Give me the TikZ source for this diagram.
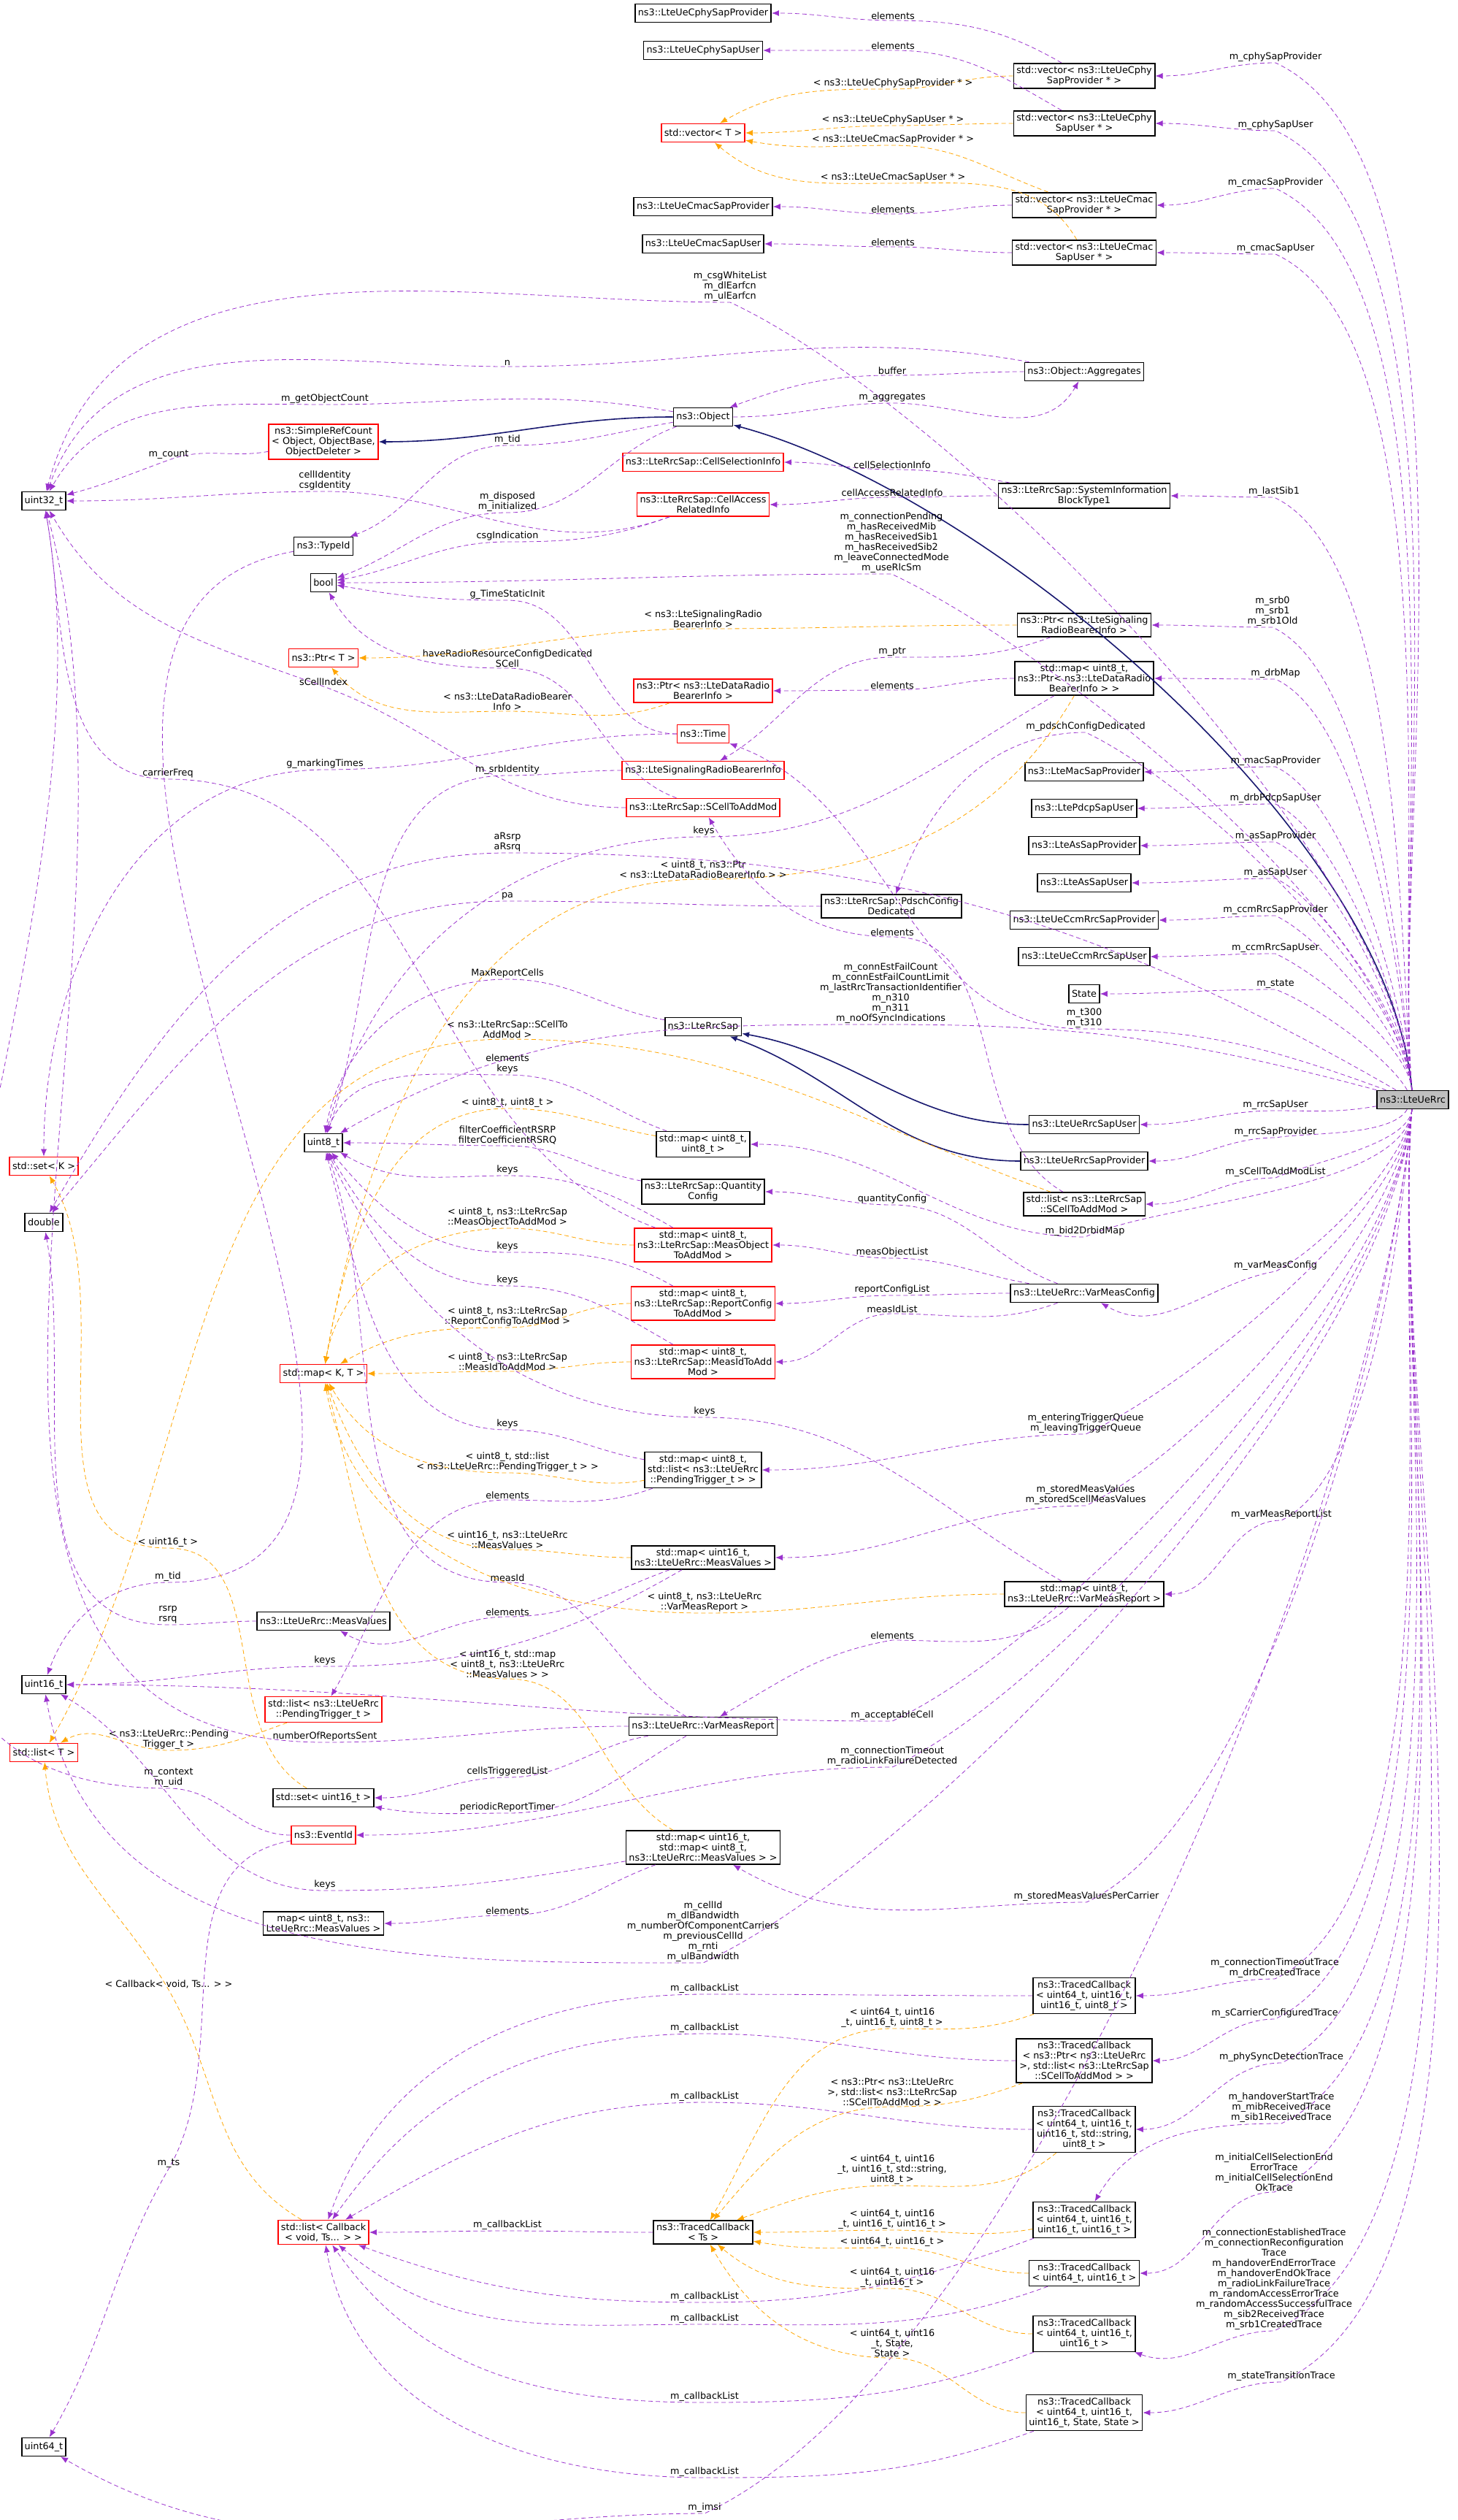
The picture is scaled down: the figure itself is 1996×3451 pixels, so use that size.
\documentclass[tikz,border=0pt]{standalone}
\usepackage{fontspec}
\setmainfont{DejaVu Sans}
\usetikzlibrary{arrows.meta}
\catcode`\_=12
\definecolor{memcol}{RGB}{154,50,205}
\definecolor{tplcol}{RGB}{255,165,0}
\definecolor{inhcol}{RGB}{25,25,112}
\begin{document}
\begin{tikzpicture}[x=0.5pt,y=-0.5pt,
  font=\fontsize{6.4}{7}\selectfont,
  box/.style={draw,thick,fill=white,align=center,inner sep=2pt,minimum height=12.5pt},
  redbox/.style={box,draw=red},
  lbl/.style={align=center,inner sep=0.6pt,font=\fontsize{6.4}{7}\selectfont},
  mem/.style={draw=memcol,dash pattern=on 3pt off 2pt,-{Latex[length=5pt,width=4pt]}},
  tpl/.style={draw=tplcol,dash pattern=on 3pt off 2pt,-{Latex[length=5pt,width=4pt]}},
  inh/.style={draw=inhcol,thick,-{Latex[length=5pt,width=4pt]}},
  rup/.style={out=95,in=-25,looseness=0.6},
  rdn/.style={out=-95,in=25,looseness=0.6},
  ]
  \useasboundingbox (0,0) rectangle (1996,3451);
  %Nodes
  \node[box,fill=gray!50] (rrc) at (1935,1506) {ns3::LteUeRrc};
  \node[box] (cphyprov) at (963,18) {ns3::LteUeCphySapProvider};
  \node[box] (cphyuser) at (963,69) {ns3::LteUeCphySapUser};
  \node[redbox] (vect) at (963,182) {std::vector< T >};
  \node[box] (cmacprov) at (963,283) {ns3::LteUeCmacSapProvider};
  \node[box] (cmacuser) at (963,334) {ns3::LteUeCmacSapUser};
  \node[box] (vcphyprov) at (1485,104) {std::vector< ns3::LteUeCphy\\SapProvider * >};
  \node[box] (vcphyuser) at (1485,169) {std::vector< ns3::LteUeCphy\\SapUser * >};
  \node[box] (vcmacprov) at (1485,281) {std::vector< ns3::LteUeCmac\\SapProvider * >};
  \node[box] (vcmacuser) at (1485,346) {std::vector< ns3::LteUeCmac\\SapUser * >};
  \node[box] (aggr) at (1485,509) {ns3::Object::Aggregates};
  \node[box] (object) at (963,571) {ns3::Object};
  \node[redbox] (refcount) at (443,605) {ns3::SimpleRefCount\\< Object, ObjectBase,\\ObjectDeleter >};
  \node[box] (u32) at (60,686) {uint32_t};
  \node[redbox] (cellsel) at (963,633) {ns3::LteRrcSap::CellSelectionInfo};
  \node[redbox] (cellacc) at (963,691) {ns3::LteRrcSap::CellAccess\\RelatedInfo};
  \node[box] (sib1) at (1485,679) {ns3::LteRrcSap::SystemInformation\\BlockType1};
  \node[box] (typeid) at (443,748) {ns3::TypeId};
  \node[box] (boolt) at (443,798) {bool};
  \node[redbox] (ptrt) at (443,901) {ns3::Ptr< T >};
  \node[redbox] (ptrdrb) at (963,946) {ns3::Ptr< ns3::LteDataRadio\\BearerInfo >};
  \node[redbox] (time) at (963,1005) {ns3::Time};
  \node[redbox] (srbinfo) at (963,1055) {ns3::LteSignalingRadioBearerInfo};
  \node[redbox] (scell) at (963,1106) {ns3::LteRrcSap::SCellToAddMod};
  \node[box] (rrcsap) at (963,1406) {ns3::LteRrcSap};
  \node[box] (ptrsrb) at (1485,856) {ns3::Ptr< ns3::LteSignaling\\RadioBearerInfo >};
  \node[box] (drbmap) at (1485,929) {std::map< uint8_t,\\ns3::Ptr< ns3::LteDataRadio\\BearerInfo > >};
  \node[box] (pdsch) at (1221,1241) {ns3::LteRrcSap::PdschConfig\\Dedicated};
  \node[box] (macprov) at (1485,1057) {ns3::LteMacSapProvider};
  \node[box] (pdcpuser) at (1485,1107) {ns3::LtePdcpSapUser};
  \node[box] (asprov) at (1485,1158) {ns3::LteAsSapProvider};
  \node[box] (asuser) at (1485,1209) {ns3::LteAsSapUser};
  \node[box] (ccmprov) at (1485,1260) {ns3::LteUeCcmRrcSapProvider};
  \node[box] (ccmuser) at (1485,1310) {ns3::LteUeCcmRrcSapUser};
  \node[box] (state) at (1485,1361) {State};
  \node[redbox] (setk) at (60,1597) {std::set< K >};
  \node[box] (dbl) at (60,1674) {double};
  \node[box] (u8) at (443,1565) {uint8_t};
  \node[box] (map88) at (963,1567) {std::map< uint8_t,\\uint8_t >};
  \node[box] (quant) at (963,1632) {ns3::LteRrcSap::Quantity\\Config};
  \node[redbox] (mapobj) at (963,1705) {std::map< uint8_t,\\ns3::LteRrcSap::MeasObject\\ToAddMod >};
  \node[redbox] (maprep) at (963,1785) {std::map< uint8_t,\\ns3::LteRrcSap::ReportConfig\\ToAddMod >};
  \node[redbox] (mapid) at (963,1865) {std::map< uint8_t,\\ns3::LteRrcSap::MeasIdToAdd\\Mod >};
  \node[redbox] (mapkt) at (443,1881) {std::map< K, T >};
  \node[box] (mappend) at (963,2013) {std::map< uint8_t,\\std::list< ns3::LteUeRrc\\::PendingTrigger_t > >};
  \node[box] (mapmv) at (963,2133) {std::map< uint16_t,\\ns3::LteUeRrc::MeasValues >};
  \node[box] (measval) at (443,2220) {ns3::LteUeRrc::MeasValues};
  \node[box] (u16) at (60,2307) {uint16_t};
  \node[redbox] (listpend) at (443,2341) {std::list< ns3::LteUeRrc\\::PendingTrigger_t >};
  \node[box] (varrep) at (963,2364) {ns3::LteUeRrc::VarMeasReport};
  \node[redbox] (listt) at (60,2400) {std::list< T >};
  \node[box] (rrcuser) at (1485,1540) {ns3::LteUeRrcSapUser};
  \node[box] (rrcprov) at (1485,1590) {ns3::LteUeRrcSapProvider};
  \node[box] (listscell) at (1485,1649) {std::list< ns3::LteRrcSap\\::SCellToAddMod >};
  \node[box] (varcfg) at (1485,1771) {ns3::LteUeRrc::VarMeasConfig};
  \node[box] (mapvrep) at (1485,2183) {std::map< uint8_t,\\ns3::LteUeRrc::VarMeasReport >};
  \node[box] (set16) at (443,2462) {std::set< uint16_t >};
  \node[redbox] (eventid) at (443,2513) {ns3::EventId};
  \node[box] (mapcarr) at (963,2530) {std::map< uint16_t,\\std::map< uint8_t,\\ns3::LteUeRrc::MeasValues > >};
  \node[box] (map8mv) at (443,2634) {map< uint8_t, ns3::\\LteUeRrc::MeasValues >};
  \node[redbox] (listcb) at (443,3057) {std::list< Callback\\< void, Ts... > >};
  \node[box] (tcts) at (963,3057) {ns3::TracedCallback\\< Ts >};
  \node[box] (u64) at (60,3351) {uint64_t};
  \node[box] (tca) at (1485,2733) {ns3::TracedCallback\\< uint64_t, uint16_t,\\uint16_t, uint8_t >};
  \node[box] (tcb) at (1485,2822) {ns3::TracedCallback\\< ns3::Ptr< ns3::LteUeRrc\\>, std::list< ns3::LteRrcSap\\::SCellToAddMod > >};
  \node[box] (tcc) at (1485,2916) {ns3::TracedCallback\\< uint64_t, uint16_t,\\uint16_t, std::string,\\uint8_t >};
  \node[box] (tcd) at (1485,3040) {ns3::TracedCallback\\< uint64_t, uint16_t,\\uint16_t, uint16_t >};
  \node[box] (tce) at (1485,3113) {ns3::TracedCallback\\< uint64_t, uint16_t >};
  \node[box] (tcf) at (1485,3196) {ns3::TracedCallback\\< uint64_t, uint16_t,\\uint16_t >};
  \node[box] (tcg) at (1485,3304) {ns3::TracedCallback\\< uint64_t, uint16_t,\\uint16_t, State, State >};
  %Inheritance
  \draw[inh] (rrc) to[out=95,in=-15,looseness=0.7] (object);
  \draw[inh] (object) to[out=180,in=0] (refcount);
  \draw[inh] (rrcuser) to[out=180,in=-10] (rrcsap);
  \draw[inh] (rrcprov) to[out=180,in=-20] (rrcsap);
  %Members of LteUeRrc
  \draw[mem] (rrc) to[rup] (1747,86) node[lbl,above]{m_cphySapProvider} to[out=180,in=0] (vcphyprov);
  \draw[mem] (rrc) to[rup] (1747,179) node[lbl,above]{m_cphySapUser} to[out=180,in=0] (vcphyuser);
  \draw[mem] (rrc) to[rup] (1747,258) node[lbl,above]{m_cmacSapProvider} to[out=180,in=0] (vcmacprov);
  \draw[mem] (rrc) to[rup] (1747,348) node[lbl,above]{m_cmacSapUser} to[out=180,in=0] (vcmacuser);
  \draw[mem] (rrc) to[rup] (1000,414) node[lbl,above]{m_csgWhiteList\\m_dlEarfcn\\m_ulEarfcn} to[out=180,in=75] (u32);
  \draw[mem] (rrc) to[rup] (1745,681) node[lbl,above]{m_lastSib1} to[out=180,in=0] (sib1);
  \draw[mem] (rrc) to[rup] (1221,786) node[lbl,above]{m_connectionPending\\m_hasReceivedMib\\m_hasReceivedSib1\\m_hasReceivedSib2\\m_leaveConnectedMode\\m_useRlcSm} to[out=180,in=0] (boolt);
  \draw[mem] (rrc) to[rup] (1743,859) node[lbl,above]{m_srb0\\m_srb1\\m_srb1Old} to[out=180,in=0] (ptrsrb);
  \draw[mem] (rrc) to[rup] (1747,930) node[lbl,above]{m_drbMap} to[out=180,in=0] (drbmap);
  \draw[mem] (rrc) to[rup] (1487,1003) node[lbl,above]{m_pdschConfigDedicated} to[out=180,in=70] (pdsch);
  \draw[mem] (rrc) to[rup] (1747,1050) node[lbl,above]{m_macSapProvider} to[out=180,in=0] (macprov);
  \draw[mem] (rrc) to[rup] (1747,1101) node[lbl,above]{m_drbPdcpSapUser} to[out=180,in=0] (pdcpuser);
  \draw[mem] (rrc) to[rup] (1747,1153) node[lbl,above]{m_asSapProvider} to[out=180,in=0] (asprov);
  \draw[mem] (rrc) to[rup] (1747,1203) node[lbl,above]{m_asSapUser} to[out=180,in=0] (asuser);
  \draw[mem] (rrc) to[rup] (1747,1254) node[lbl,above]{m_ccmRrcSapProvider} to[out=180,in=0] (ccmprov);
  \draw[mem] (rrc) to[rup] (1747,1306) node[lbl,above]{m_ccmRrcSapUser} to[out=180,in=0] (ccmuser);
  \draw[mem] (rrc) to[out=120,in=-20,looseness=0.6] (1747,1355) node[lbl,above]{m_state} to[out=180,in=0] (state);
  \draw[mem] (rrc) to[out=160,in=0] (1485,1409) node[lbl,above]{m_t300\\m_t310} to[out=180,in=-20] (time);
  \draw[mem] (rrc) to[out=165,in=0] (1220,1403) node[lbl,above]{m_connEstFailCount\\m_connEstFailCountLimit\\m_lastRrcTransactionIdentifier\\m_n310\\m_n311\\m_noOfSyncIndications} to[out=180,in=30] (u8);
  \draw[mem] (rrc) to[out=-170,in=0] (1747,1521) node[lbl,above]{m_rrcSapUser} to[out=180,in=0] (rrcuser);
  \draw[mem] (rrc) to[out=-120,in=10,looseness=0.6] (1747,1558) node[lbl,above]{m_rrcSapProvider} to[out=180,in=0] (rrcprov);
  \draw[mem] (rrc) to[rdn] (1747,1613) node[lbl,above]{m_sCellToAddModList} to[out=180,in=0] (listscell);
  \draw[mem] (rrc) to[rdn] (1486,1694) node[lbl,above]{m_bid2DrbidMap} to[out=180,in=0] (map88);
  \draw[mem] (rrc) to[rdn] (1747,1741) node[lbl,above]{m_varMeasConfig} to[out=190,in=-30] (varcfg);
  \draw[mem] (rrc) to[rdn] (1487,1964) node[lbl,above]{m_enteringTriggerQueue\\m_leavingTriggerQueue} to[out=180,in=0] (mappend);
  \draw[mem] (rrc) to[rdn] (1487,2062) node[lbl,above]{m_storedMeasValues\\m_storedScellMeasValues} to[out=180,in=0] (mapmv);
  \draw[mem] (rrc) to[rdn] (1755,2082) node[lbl,above]{m_varMeasReportList} to[out=180,in=0] (mapvrep);
  \draw[mem] (rrc) to[rdn] (1222,2357) node[lbl,above]{m_acceptableCell} to[out=180,in=0] (u16);
  \draw[mem] (rrc) to[rdn] (1222,2420) node[lbl,above]{m_connectionTimeout\\m_radioLinkFailureDetected} to[out=180,in=0] (eventid);
  \draw[mem] (rrc) to[rdn] (1488,2605) node[lbl,above]{m_storedMeasValuesPerCarrier} to[out=180,in=-30] (mapcarr);
  \draw[mem] (rrc) to[rdn] (963,2688) node[lbl,above]{m_cellId\\m_dlBandwidth\\m_numberOfComponentCarriers\\m_previousCellId\\m_rnti\\m_ulBandwidth} to[out=180,in=-80] (u16);
  \draw[mem] (rrc) to[rdn] (1746,2710) node[lbl,above]{m_connectionTimeoutTrace\\m_drbCreatedTrace} to[out=180,in=0] (tca);
  \draw[mem] (rrc) to[rdn] (1746,2765) node[lbl,above]{m_sCarrierConfiguredTrace} to[out=180,in=0] (tcb);
  \draw[mem] (rrc) to[rdn] (1755,2825) node[lbl,above]{m_phySyncDetectionTrace} to[out=180,in=0] (tcc);
  \draw[mem] (rrc) to[rdn] (1755,2908) node[lbl,above]{m_handoverStartTrace\\m_mibReceivedTrace\\m_sib1ReceivedTrace} to[out=180,in=60] (tcd);
  \draw[mem] (rrc) to[rdn] (1745,3002) node[lbl,above]{m_initialCellSelectionEnd\\ErrorTrace\\m_initialCellSelectionEnd\\OkTrace} to[out=180,in=0] (tce);
  \draw[mem] (rrc) to[rdn] (1745,3192) node[lbl,above]{m_connectionEstablishedTrace\\m_connectionReconfiguration\\Trace\\m_handoverEndErrorTrace\\m_handoverEndOkTrace\\m_radioLinkFailureTrace\\m_randomAccessErrorTrace\\m_randomAccessSuccessfulTrace\\m_sib2ReceivedTrace\\m_srb1CreatedTrace} to[out=180,in=-20] (tcf);
  \draw[mem] (rrc) to[rdn] (1755,3262) node[lbl,above]{m_stateTransitionTrace} to[out=180,in=0] (tcg);
  \draw[mem] (rrc) to[rdn] (965,3442) node[lbl,above]{m_imsi} to[out=180,in=-30] (u64);
  %Sap vectors
  \draw[mem] (vcphyprov) to[out=150,in=0] (1223,28) node[lbl,above]{elements} to[out=180,in=0] (cphyprov);
  \draw[mem] (vcphyuser) to[out=150,in=0] (1223,69) node[lbl,above]{elements} to[out=180,in=0] (cphyuser);
  \draw[mem] (vcmacprov) to[out=180,in=0] (1223,293) node[lbl,above]{elements} to[out=180,in=0] (cmacprov);
  \draw[mem] (vcmacuser) to[out=180,in=0] (1223,338) node[lbl,above]{elements} to[out=180,in=0] (cmacuser);
  \draw[tpl] (vcphyprov) to[out=180,in=0] (1223,122) node[lbl,above]{< ns3::LteUeCphySapProvider * >} to[out=180,in=30] (vect);
  \draw[tpl] (vcphyuser) to[out=180,in=0] (1223,172) node[lbl,above]{< ns3::LteUeCphySapUser * >} to[out=180,in=0] (vect);
  \draw[tpl] (vcmacprov) to[out=160,in=0] (1223,199) node[lbl,above]{< ns3::LteUeCmacSapProvider * >} to[out=180,in=-10] (vect);
  \draw[tpl] (vcmacuser) to[out=120,in=0] (1223,251) node[lbl,above]{< ns3::LteUeCmacSapUser * >} to[out=180,in=-40] (vect);
  %Object
  \draw[mem] (aggr) to[out=170,in=0] (695,502) node[lbl,above]{n} to[out=180,in=70] (u32);
  \draw[mem] (aggr) to[out=180,in=0] (1222,514) node[lbl,above]{buffer} to[out=180,in=20] (object);
  \draw[mem] (object) to[out=0,in=180] (1222,552) node[lbl,above]{m_aggregates} to[out=0,in=-120] (aggr);
  \draw[mem] (object) to[out=170,in=0] (445,554) node[lbl,above]{m_getObjectCount} to[out=180,in=60] (u32);
  \draw[mem] (refcount) to[out=190,in=20] (231,630) node[lbl,above]{m_count} to[out=200,in=15] (u32);
  \draw[mem] (cellacc) to[out=200,in=0] (445,673) node[lbl,above]{cellIdentity\\csgIdentity} to[out=180,in=0] (u32);
  \draw[mem] (object) to[out=190,in=0] (695,610) node[lbl,above]{m_tid} to[out=180,in=20] (typeid);
  \draw[mem] (object) to[out=200,in=0] (695,702) node[lbl,above]{m_disposed\\m_initialized} to[out=180,in=20] (boolt);
  \draw[mem] (cellacc) to[out=200,in=0] (695,742) node[lbl,above]{csgIndication} to[out=180,in=10] (boolt);
  \draw[mem] (sib1) to[out=170,in=0] (1222,643) node[lbl,above]{cellSelectionInfo} to[out=180,in=0] (cellsel);
  \draw[mem] (sib1) to[out=180,in=0] (1222,681) node[lbl,above]{cellAccessRelatedInfo} to[out=180,in=0] (cellacc);
  \draw[mem] (time) to[out=180,in=0] (695,822) node[lbl,above]{g_TimeStaticInit} to[out=180,in=-10] (boolt);
  \draw[mem] (scell) to[out=160,in=0] (695,915) node[lbl,above]{haveRadioResourceConfigDedicated\\SCell} to[out=180,in=-60] (boolt);
  \draw[tpl] (ptrsrb) to[out=180,in=0] (963,861) node[lbl,above]{< ns3::LteSignalingRadio\\BearerInfo >} to[out=180,in=0] (ptrt);
  \draw[tpl] (ptrdrb) to[out=200,in=0] (695,974) node[lbl,above]{< ns3::LteDataRadioBearer\\Info >} to[out=180,in=-50] (ptrt);
  \draw[mem] (scell) to[out=180,in=-20] (443,940) node[lbl,above]{sCellIndex} to[out=160,in=-60] (u32);
  \draw[mem] (time) to[out=180,in=0] (445,1054) node[lbl,above]{g_markingTimes} to[out=180,in=90] (setk);
  \draw[mem] (mapobj) to[out=160,in=0] (230,1067) node[lbl,above]{carrierFreq} to[out=180,in=-80] (u32);
  \draw[mem] (ptrsrb) to[out=200,in=0] (1222,900) node[lbl,above]{m_ptr} to[out=180,in=30] (srbinfo);
  \draw[mem] (srbinfo) to[out=180,in=0] (695,1062) node[lbl,above]{m_srbIdentity} to[out=180,in=70] (u8);
  \draw[mem] (drbmap) to[out=180,in=0] (1222,945) node[lbl,above]{elements} to[out=180,in=0] (ptrdrb);
  \draw[mem] (drbmap) to[out=210,in=0] (964,1146) node[lbl,above]{keys} to[out=180,in=75] (u8);
  \draw[tpl] (drbmap) to[out=240,in=0] (963,1204) node[lbl,above]{< uint8_t, ns3::Ptr\\< ns3::LteDataRadioBearerInfo > >} to[out=180,in=80] (mapkt);
  \draw[mem] (rrc) to[out=150,in=0] (695,1168) node[lbl,above]{aRsrp\\aRsrq} to[out=180,in=60] (dbl);
  \draw[mem] (pdsch) to[out=180,in=0] (695,1234) node[lbl,above]{pa} to[out=180,in=50] (dbl);
  \draw[mem] (rrcsap) to[out=170,in=0] (695,1341) node[lbl,above]{MaxReportCells} to[out=180,in=80] (u8);
  \draw[tpl] (listscell) to[out=160,in=0] (695,1423) node[lbl,above]{< ns3::LteRrcSap::SCellTo\\AddMod >} to[out=180,in=60] (listt);
  \draw[mem] (listscell) to[out=150,in=0] (1222,1283) node[lbl,above]{elements} to[out=180,in=-60] (scell);
  %Measurement maps
  \draw[mem] (map88) to[out=160,in=0] (695,1472) node[lbl,above]{elements\\keys} to[out=180,in=70] (u8);
  \draw[tpl] (map88) to[out=170,in=0] (695,1518) node[lbl,above]{< uint8_t, uint8_t >} to[out=180,in=80] (mapkt);
  \draw[mem] (quant) to[out=170,in=0] (695,1569) node[lbl,above]{filterCoefficientRSRP\\filterCoefficientRSRQ} to[out=180,in=0] (u8);
  \draw[mem] (mapobj) to[out=150,in=0] (695,1610) node[lbl,above]{keys} to[out=180,in=-30] (u8);
  \draw[tpl] (mapobj) to[out=180,in=0] (695,1682) node[lbl,above]{< uint8_t, ns3::LteRrcSap\\::MeasObjectToAddMod >} to[out=180,in=80] (mapkt);
  \draw[mem] (maprep) to[out=150,in=0] (695,1715) node[lbl,above]{keys} to[out=180,in=-50] (u8);
  \draw[tpl] (maprep) to[out=180,in=0] (695,1818) node[lbl,above]{< uint8_t, ns3::LteRrcSap\\::ReportConfigToAddMod >} to[out=180,in=30] (mapkt);
  \draw[mem] (mapid) to[out=150,in=0] (695,1761) node[lbl,above]{keys} to[out=180,in=-60] (u8);
  \draw[tpl] (mapid) to[out=180,in=0] (695,1878) node[lbl,above]{< uint8_t, ns3::LteRrcSap\\::MeasIdToAddMod >} to[out=180,in=0] (mapkt);
  \draw[mem] (varcfg) to[out=160,in=0] (1222,1650) node[lbl,above]{quantityConfig} to[out=180,in=0] (quant);
  \draw[mem] (varcfg) to[out=170,in=0] (1222,1723) node[lbl,above]{measObjectList} to[out=180,in=0] (mapobj);
  \draw[mem] (varcfg) to[out=180,in=0] (1222,1774) node[lbl,above]{reportConfigList} to[out=180,in=0] (maprep);
  \draw[mem] (varcfg) to[out=200,in=0] (1222,1799) node[lbl,above]{measIdList} to[out=180,in=0] (mapid);
  \draw[mem] (varrep) to[out=150,in=0] (695,2167) node[lbl,above]{measId} to[out=180,in=-70] (u8);
  \draw[mem] (mapvrep) to[out=150,in=0] (965,1941) node[lbl,above]{keys} to[out=180,in=-65] (u8);
  \draw[mem] (mappend) to[out=170,in=0] (695,1958) node[lbl,above]{keys} to[out=180,in=-75] (u8);
  \draw[tpl] (mappend) to[out=190,in=0] (695,2017) node[lbl,above]{< uint8_t, std::list\\< ns3::LteUeRrc::PendingTrigger_t > >} to[out=180,in=-60] (mapkt);
  \draw[mem] (mappend) to[out=200,in=0] (695,2054) node[lbl,above]{elements} to[out=180,in=60] (listpend);
  \draw[tpl] (mapmv) to[out=180,in=0] (695,2122) node[lbl,above]{< uint16_t, ns3::LteUeRrc\\::MeasValues >} to[out=180,in=-70] (mapkt);
  \draw[mem] (mapmv) to[out=200,in=0] (695,2214) node[lbl,above]{elements} to[out=180,in=-30] (measval);
  \draw[tpl] (mapvrep) to[out=180,in=0] (965,2209) node[lbl,above]{< uint8_t, ns3::LteUeRrc\\::VarMeasReport >} to[out=180,in=-80] (mapkt);
  \draw[mem] (mapvrep) to[out=220,in=0] (1222,2246) node[lbl,above]{elements} to[out=190,in=30] (varrep);
  \draw[mem] (measval) to[out=180,in=0] (230,2225) node[lbl,above]{rsrp\\rsrq} to[out=180,in=-80] (dbl);
  \draw[mem] (typeid) to[out=190,in=0] (230,2167) node[lbl,above]{m_tid} to[out=180,in=70] (u16);
  \draw[mem] (mapmv) to[out=210,in=0] (445,2282) node[lbl,above]{keys} to[out=180,in=0] (u16);
  \draw[tpl] (mapcarr) to[out=150,in=0] (695,2299) node[lbl,above]{< uint16_t, std::map\\< uint8_t, ns3::LteUeRrc\\::MeasValues > >} to[out=180,in=-75] (mapkt);
  \draw[mem] (varrep) to[out=180,in=0] (445,2386) node[lbl,above]{numberOfReportsSent} to[out=180,in=-75] (u32);
  \draw[tpl] (listpend) to[out=200,in=0] (231,2397) node[lbl,above]{< ns3::LteUeRrc::Pending\\Trigger_t >} to[out=180,in=30] (listt);
  \draw[tpl] (set16) to[out=150,in=0] (230,2120) node[lbl,above]{< uint16_t >} to[out=180,in=-60] (setk);
  \draw[mem] (mapcarr) to[out=190,in=0] (445,2589) node[lbl,above]{keys} to[out=180,in=-30] (u16);
  \draw[mem] (varrep) to[out=190,in=0] (695,2434) node[lbl,above]{cellsTriggeredList} to[out=180,in=0] (set16);
  \draw[mem] (varrep) to[out=210,in=0] (695,2483) node[lbl,above]{periodicReportTimer} to[out=180,in=-10] (set16);
  \draw[mem] (eventid) to[out=180,in=0] (231,2449) node[lbl,above]{m_context\\m_uid} to[out=180,in=-80] (u32);
  \draw[mem] (eventid) to[out=190,in=60] (231,2970) node[lbl,above]{m_ts} to[out=240,in=60] (u64);
  \draw[mem] (mapcarr) to[out=200,in=0] (695,2623) node[lbl,above]{elements} to[out=180,in=0] (map8mv);
  %Traced callbacks
  \draw[tpl] (listcb) to[out=150,in=-60] (231,2725) node[lbl,above]{< Callback< void, Ts... > >} to[out=120,in=-85] (listt);
  \draw[mem] (tcts) to[out=180,in=0] (695,3055) node[lbl,above]{m_callbackList} to[out=180,in=0] (listcb);
  \draw[mem] (tca) to[out=180,in=0] (965,2731) node[lbl,above]{m_callbackList} to[out=180,in=70] (listcb);
  \draw[mem] (tcb) to[out=180,in=0] (965,2785) node[lbl,above]{m_callbackList} to[out=180,in=55] (listcb);
  \draw[mem] (tcc) to[out=180,in=0] (965,2879) node[lbl,above]{m_callbackList} to[out=180,in=30] (listcb);
  \draw[mem] (tcd) to[out=200,in=0] (965,3153) node[lbl,above]{m_callbackList} to[out=180,in=-20] (listcb);
  \draw[mem] (tce) to[out=200,in=0] (965,3183) node[lbl,above]{m_callbackList} to[out=180,in=-40] (listcb);
  \draw[mem] (tcf) to[out=200,in=0] (965,3290) node[lbl,above]{m_callbackList} to[out=180,in=-55] (listcb);
  \draw[mem] (tcg) to[out=200,in=0] (965,3393) node[lbl,above]{m_callbackList} to[out=180,in=-80] (listcb);
  \draw[tpl] (tca) to[out=200,in=0] (1222,2778) node[lbl,above]{< uint64_t, uint16\\_t, uint16_t, uint8_t >} to[out=180,in=60] (tcts);
  \draw[tpl] (tcb) to[out=200,in=0] (1222,2885) node[lbl,above]{< ns3::Ptr< ns3::LteUeRrc\\>, std::list< ns3::LteRrcSap\\::SCellToAddMod > >} to[out=180,in=50] (tcts);
  \draw[tpl] (tcc) to[out=220,in=0] (1222,2993) node[lbl,above]{< uint64_t, uint16\\_t, uint16_t, std::string,\\uint8_t >} to[out=180,in=20] (tcts);
  \draw[tpl] (tcd) to[out=190,in=0] (1222,3054) node[lbl,above]{< uint64_t, uint16\\_t, uint16_t, uint16_t >} to[out=180,in=0] (tcts);
  \draw[tpl] (tce) to[out=180,in=0] (1222,3078) node[lbl,above]{< uint64_t, uint16_t >} to[out=180,in=-10] (tcts);
  \draw[tpl] (tcf) to[out=180,in=0] (1222,3134) node[lbl,above]{< uint64_t, uint16\\_t, uint16_t >} to[out=180,in=-40] (tcts);
  \draw[tpl] (tcg) to[out=180,in=0] (1222,3229) node[lbl,above]{< uint64_t, uint16\\_t, State,\\State >} to[out=180,in=-60] (tcts);
\end{tikzpicture}
\end{document}
